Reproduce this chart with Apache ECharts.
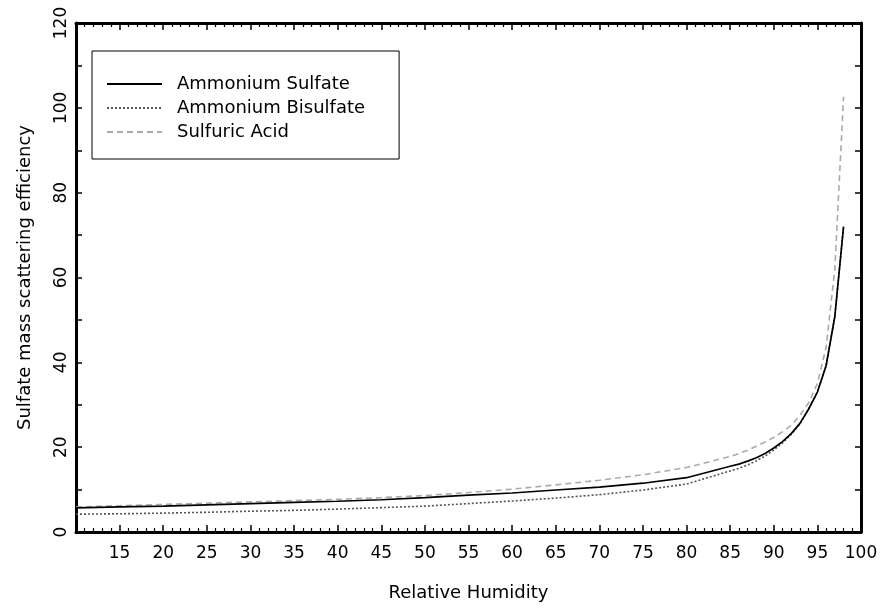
<!DOCTYPE html>
<html>
<head>
<meta charset="utf-8">
<script src="https://cdn.jsdelivr.net/npm/echarts@6/dist/echarts.min.js"></script>
<style>
  html, body { margin: 0; padding: 0; background: #fff; }
  #chart { width: 882px; height: 609px; }
</style>
</head>
<body>
<div id="chart"></div>
<script>
// Relative humidity (%) at which each efficiency value is given
const humidity = [10, 15, 20, 25, 30, 35, 40, 45, 50, 55, 60, 65, 70, 75, 80,
                  85, 86, 87, 88, 89, 90, 91, 92, 93, 94, 95, 96, 97, 98];

// Sulfate mass scattering efficiency for each aerosol type
const ammoniumSulfate = [5.7, 5.9, 6.1, 6.4, 6.7, 7.0, 7.25, 7.6, 8.1, 8.7, 9.2, 9.9, 10.6, 11.5, 12.8,
                         15.5, 16.0, 16.7, 17.5, 18.5, 19.8, 21.3, 23.2, 25.6, 29.0, 33.0, 39.2, 50.8, 72.0];
const ammoniumBisulfate = [4.2, 4.3, 4.45, 4.65, 4.9, 5.1, 5.4, 5.75, 6.1, 6.7, 7.3, 8.0, 8.8, 9.9, 11.3,
                           14.4, 15.0, 15.8, 16.8, 17.9, 19.3, 21.0, 23.0, 25.5, 29.0, 33.0, 39.2, 50.8, 72.0];
const sulfuricAcid = [5.9, 6.2, 6.5, 6.8, 7.1, 7.4, 7.7, 8.1, 8.6, 9.3, 10.1, 11.1, 12.2, 13.5, 15.2,
                      17.8, 18.5, 19.3, 20.2, 21.2, 22.3, 23.6, 25.2, 27.5, 30.5, 35.0, 43.5, 62.0, 102.6];

const seriesNames = ['Ammonium Sulfate', 'Ammonium Bisulfate', 'Sulfuric Acid'];

const xTicks = { min: 10, max: 100, step: 5 };
const yTicks = { min: 0, max: 120, step: 10, labelStep: 20 };

const FONT = 'DejaVu Sans';

function pairs(ys) {
  return humidity.map((h, i) => [h, ys[i]]);
}

const chart = echarts.init(document.getElementById('chart'), null, { renderer: 'canvas' });

const frameLine = { show: true, onZero: false, lineStyle: { color: '#000', width: 3 } };

chart.setOption({
  animation: false,
  backgroundColor: '#fff',
  grid: { left: 76, right: 21, top: 23, bottom: 77 },
  legend: {
    orient: 'vertical',
    left: 92,
    top: 51,
    data: seriesNames,
    backgroundColor: '#fff',
    borderColor: '#000',
    borderWidth: 1,
    padding: [24, 34, 18, 14],
    itemWidth: 55,
    itemHeight: 14,
    itemGap: 6,
    selectedMode: false,
    // line-only keys: hide the marker that line series put in the middle
    itemStyle: { opacity: 0 },
    textStyle: { fontFamily: FONT, fontSize: 18, color: '#000', padding: [0, 0, 0, 10] }
  },
  xAxis: [
    {
      type: 'value',
      min: xTicks.min, max: xTicks.max, interval: xTicks.step,
      name: 'Relative Humidity',
      nameLocation: 'middle',
      nameGap: 52,
      nameTextStyle: { fontFamily: FONT, fontSize: 18, color: '#000' },
      axisLine: frameLine,
      axisTick: { show: true, inside: true, length: 7, lineStyle: { color: '#000', width: 1.5 } },
      minorTick: { show: true, splitNumber: 5, length: 4, lineStyle: { color: '#000', width: 1.2 } },
      axisLabel: {
        fontFamily: FONT, fontSize: 17, color: '#000', margin: 13,
        formatter: v => (v === xTicks.min ? '' : String(v))
      },
      splitLine: { show: false }
    },
    {
      type: 'value', position: 'top',
      min: xTicks.min, max: xTicks.max, interval: xTicks.step,
      axisLine: frameLine,
      axisTick: { show: true, inside: true, length: 7, lineStyle: { color: '#000', width: 1.5 } },
      minorTick: { show: true, splitNumber: 5, length: 4, lineStyle: { color: '#000', width: 1.2 } },
      axisLabel: { show: false },
      splitLine: { show: false }
    }
  ],
  yAxis: [
    {
      type: 'value',
      min: yTicks.min, max: yTicks.max, interval: yTicks.step,
      name: 'Sulfate mass scattering efficiency',
      nameLocation: 'middle',
      nameGap: 42,
      nameTextStyle: { fontFamily: FONT, fontSize: 18, color: '#000' },
      axisLine: frameLine,
      axisTick: { show: true, inside: true, length: 6, lineStyle: { color: '#000', width: 1.5 } },
      axisLabel: {
        fontFamily: FONT, fontSize: 17, color: '#000', rotate: 90, margin: 6,
        formatter: v => (v % yTicks.labelStep === 0 ? String(v) : '')
      },
      splitLine: { show: false }
    },
    {
      type: 'value', position: 'right',
      min: yTicks.min, max: yTicks.max, interval: yTicks.step,
      axisLine: frameLine,
      axisTick: { show: true, inside: true, length: 6, lineStyle: { color: '#000', width: 1.5 } },
      axisLabel: { show: false },
      splitLine: { show: false }
    }
  ],
  series: [
    {
      name: seriesNames[2],
      type: 'line',
      data: pairs(sulfuricAcid),
      showSymbol: false, symbol: 'none',
      lineStyle: { color: '#aaaaaa', width: 1.6, type: [6, 4] },
      itemStyle: { color: '#aaaaaa' },
      z: 2
    },
    {
      name: seriesNames[1],
      type: 'line',
      data: pairs(ammoniumBisulfate),
      showSymbol: false, symbol: 'none',
      lineStyle: { color: '#555555', width: 1.6, type: [2, 2] },
      itemStyle: { color: '#555555' },
      z: 3
    },
    {
      name: seriesNames[0],
      type: 'line',
      data: pairs(ammoniumSulfate),
      showSymbol: false, symbol: 'none',
      lineStyle: { color: '#000000', width: 1.7 },
      itemStyle: { color: '#000000' },
      z: 4
    }
  ]
});
</script>
</body>
</html>
